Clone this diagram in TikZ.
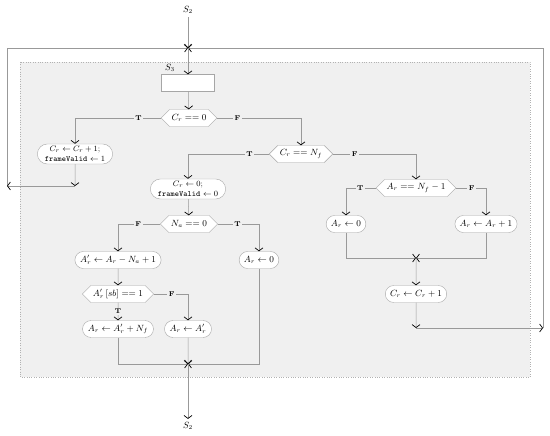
\documentclass[tikz,border=0pt]{standalone}
\usepackage{amsmath}
\usepackage{xcolor}
\usepackage{tikz}
\usetikzlibrary{positioning, shapes, arrows.meta, calc, backgrounds}

\begin{document}
\begin{tikzpicture}[x=1pt, y=-1pt,
    flow/.style={draw=gray!80, line width=0.5pt, -{Straight Barb[length=3pt,width=8pt,color=black,line width=0.7pt]}},
    proc/.style={rounded rectangle, draw=gray!70, fill=white, font=\small, inner xsep=4pt, inner ysep=1pt, minimum height=17pt, align=center},
    test/.style={signal, signal to=east and west, draw=gray!70, fill=white, font=\small, minimum height=17pt, inner xsep=2pt, inner ysep=1pt},
    blank/.style={rectangle, draw=gray!70, fill=white, minimum width=53pt, minimum height=17pt},
    tf/.style={fill=black!6, font=\scriptsize\bfseries, inner sep=1.5pt}]
          \fill[white] (0,0) rectangle (550,436);
          \useasboundingbox (0,0) rectangle (550,436);
          \draw[gray!60, dotted, fill=black!6] (20,62) rectangle (530,377);

          % Entry and loop
          \node (s2in) at (188,10) {\small $S_2$};
          \coordinate (j0) at (188,48);
          \coordinate (lp) at (7,186);
          \coordinate (rp) at (543,328);
          \node[blank] (s3) at (188,83) {};
          \node (s3lbl) at (170,68) {\small $S_3$};
          \node[test] (d1) at (189,118) {$C_r == 0$};
          \node[proc, font=\footnotesize, inner ysep=2.5pt] (p1) at (75,154) {$C_r \leftarrow C_r + 1$;\\\texttt{frameValid} $\leftarrow 1$};
          \coordinate (e1) at (75,186);

          % Right branch
          \node[test] (d2) at (301,154) {$C_r == N_f$};
          \node[test] (d3) at (416,188) {$A_r == N_f - 1$};
          \node[proc] (p3) at (346,224) {$A_r \leftarrow 0$};
          \node[proc] (p4) at (486,224) {$A_r \leftarrow A_r + 1$};
          \coordinate (j1) at (416,258);
          \node[proc] (p5) at (416,294) {$C_r \leftarrow C_r + 1$};
          \coordinate (e2) at (416,328);

          % Middle branch
          \node[proc, font=\footnotesize, inner ysep=2.5pt] (p2) at (188,189) {$C_r \leftarrow 0$;\\\texttt{frameValid} $\leftarrow 0$};
          \node[test] (d4) at (189,224) {$N_a == 0$};
          \node[proc] (p6) at (118,260) {$A'_r \leftarrow A_r - N_a + 1$};
          \node[proc] (p7) at (259,260) {$A_r \leftarrow 0$};
          \node[test] (d5) at (118,294) {$A'_r\,[sb] == 1$};
          \node[proc] (p8) at (118,329) {$A_r \leftarrow A'_r + N_f$};
          \node[proc] (p9) at (188,329) {$A_r \leftarrow A'_r$};
          \coordinate (j2) at (188,364);
          \node (s2out) at (188,426) {\small $S_2$};

          \draw[flow] (s2in) -- (j0);
          \draw[flow] (lp) |- (j0);
          \draw[flow] (rp) |- (j0);
          \draw[flow] (j0) -- (s3);
          \draw[flow] (s3) -- (d1);
          \draw[flow] (d1.west) -| node[tf, pos=0.13] (t1) {T} (p1);
          \draw[flow] (p1) -- (e1);
          \draw[flow] (e1) -- (lp);
          \draw[flow] (d1.east) -| node[tf, pos=0.12] (f1) {F} (d2);
          \draw[flow] (d2.west) -| node[tf, pos=0.12] (t2) {T} (p2);
          \draw[flow] (d2.east) -| node[tf, pos=0.13] (f2) {F} (d3);
          \draw[flow] (d3.west) -| node[tf, pos=0.26] (t3) {T} (p3);
          \draw[flow] (d3.east) -| node[tf, pos=0.26] (f3) {F} (p4);
          \draw[flow] (p3) |- (j1);
          \draw[flow] (p4) |- (j1);
          \draw[flow] (j1) -- (p5);
          \draw[flow] (p5) -- (e2);
          \draw[flow] (e2) -- (rp);
          \draw[flow] (p2) -- (d4);
          \draw[flow] (d4.west) -| node[tf, pos=0.26] (f4) {F} (p6);
          \draw[flow] (d4.east) -| node[tf, pos=0.24] (t4) {T} (p7);
          \draw[flow] (p6) -- (d5);
          \draw[flow] (d5) -- node[tf] (t5) {T} (p8);
          \draw[flow] (d5.east) -| node[tf, pos=0.26] (f5) {F} (p9);
          \draw[flow] (p8) |- (j2);
          \draw[flow] (p9) -- (j2);
          \draw[flow] (p7) |- (j2);
          \draw[flow] (j2) -- (s2out);
        \end{tikzpicture}
\end{document}
